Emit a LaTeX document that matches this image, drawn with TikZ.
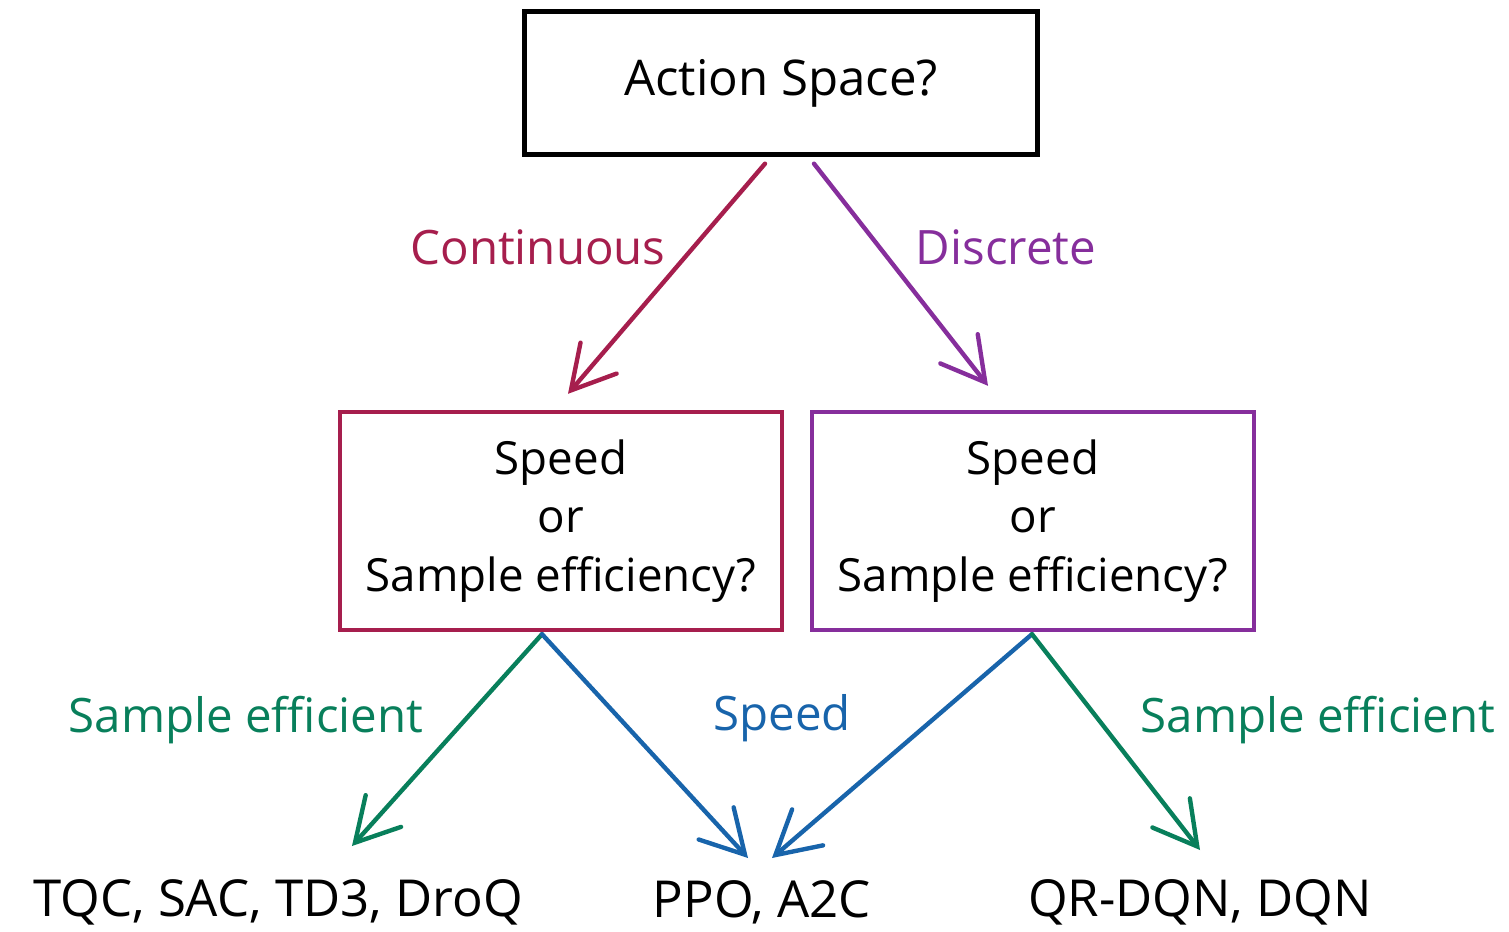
\documentclass[tikz,border=0pt]{standalone}
\usepackage{fontspec}
\setmainfont{Open Sans}
\usetikzlibrary{arrows.meta}
\definecolor{crimson}{HTML}{A61E4D}
\definecolor{grape}{HTML}{862E9C}
\definecolor{teal}{HTML}{087F5B}
\definecolor{ocean}{HTML}{1864AB}
\tikzstyle{question} = [
    rectangle,
    line width=2.5pt,
    align=center,
    font=\fontsize{26}{33.5}\selectfont,
    draw=black
]
\tikzstyle{choice} = [
    font=\fontsize{27}{30}\selectfont
]
\tikzstyle{algo} = [
    font=\fontsize{29}{32}\selectfont,
    inner sep=0pt
]
\tikzstyle{arrow} = [
    line width=2.5pt,
    line cap=round,
    -{Straight Barb[length=0.85cm, width=0.95cm, line cap=round]}
]

\begin{document}
\begin{tikzpicture}[x=0.02cm, y=-0.02cm]
\useasboundingbox (0,0) rectangle (1509,932);

\node (space) [question, font=\fontsize{28}{34}\selectfont,
    minimum width=10.26cm, minimum height=2.86cm] at (781,83)
{Action Space?};

\node (speedl) [question, draw=crimson, minimum width=8.84cm, minimum height=4.36cm] at (561,521)
{Speed\\or\\Sample efficiency?};
\node (speedr) [question, draw=grape, minimum width=8.84cm, minimum height=4.36cm] at (1033,521)
{Speed\\or\\Sample efficiency?};

\node (algl) [algo] at (278,902) {TQC, SAC, TD3, DroQ};
\node (algm) [algo] at (762,902) {PPO, A2C};
\node (algr) [algo] at (1200,902) {QR-DQN, DQN};

\node (cont) [choice, text=crimson] at (538,247) {Continuous};
\node (disc) [choice, text=grape] at (1006,247) {Discrete};
\node (effl) [choice, text=teal] at (246,720) {Sample efficient};
\node (fast) [choice, text=ocean] at (782,718) {Speed};
\node (effr) [choice, text=teal] at (1318,720) {Sample efficient};

\draw [arrow, crimson] ([xshift=-0.32cm, yshift=-0.14cm]space.south)
    -- ([xshift=0.14cm, yshift=0.32cm]speedl.north);
\draw [arrow, grape] ([xshift=0.66cm, yshift=-0.14cm]space.south)
    -- ([xshift=-0.9cm, yshift=0.48cm]speedr.north);
\draw [arrow, teal] ([xshift=-0.38cm, yshift=-0.04cm]speedl.south)
    -- ([xshift=1.48cm, yshift=1.12cm]algl.center);
\draw [arrow, ocean] ([xshift=-0.38cm, yshift=-0.04cm]speedl.south)
    -- ([xshift=-0.28cm, yshift=0.88cm]algm.center);
\draw [arrow, ocean] ([xshift=-0.02cm, yshift=-0.04cm]speedr.south)
    -- ([xshift=0.2cm, yshift=0.88cm]algm.center);
\draw [arrow, teal] ([xshift=-0.02cm, yshift=-0.04cm]speedr.south)
    -- ([yshift=1.04cm]algr.center);

\end{tikzpicture}
\end{document}
